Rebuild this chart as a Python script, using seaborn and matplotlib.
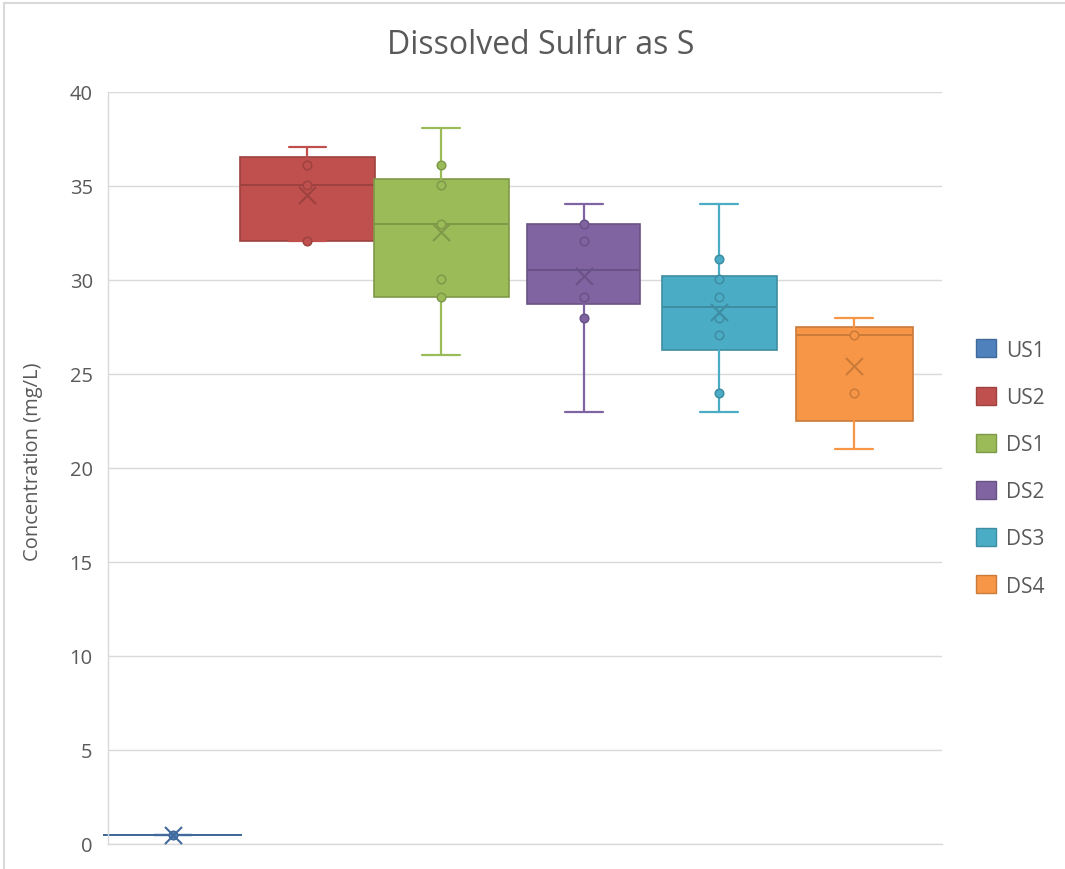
import matplotlib
matplotlib.use("Agg")
import matplotlib.pyplot as plt
import matplotlib.colors as mcolors
from matplotlib.patches import Patch
from matplotlib.lines import Line2D
import seaborn as sns

# Sampling sites and their box-and-whisker summaries (mg/L)
sites = ["US1", "US2", "DS1", "DS2", "DS3", "DS4"]
q1 = [0.5, 32.05, 29.1, 28.7, 26.3, 22.5]
median = [0.5, 35.05, 33.0, 30.55, 28.55, 27.05]
q3 = [0.5, 36.55, 35.35, 33.0, 30.2, 27.5]
whisker_low = [0.5, 32.05, 26.0, 23.0, 23.0, 21.0]
whisker_high = [0.5, 37.05, 38.1, 34.05, 34.05, 28.0]
means = [0.5, 34.5, 32.55, 30.2, 28.3, 25.45]

# Individual samples shown as inner points
us1_points = [0.5]
us2_points = [36.1, 35.05, 32.05]
ds1_points = [36.1, 35.05, 33.0, 30.05, 29.1]
ds2_points = [33.0, 32.05, 29.1, 28.0]
ds3_points = [31.1, 30.05, 29.1, 28.0, 27.05, 24.0]
ds4_points = [27.05, 24.0]
site_points = [us1_points, us2_points, ds1_points, ds2_points, ds3_points, ds4_points]

colors = ["#4F81BD", "#C0504D", "#9BBB59", "#8064A2", "#4BACC6", "#F79646"]

# Layout of the boxes along the (category-less) horizontal axis
box_pos = [64.5, 199.5, 333.5, 476, 611.5, 746.5]
box_width = [139, 135, 135, 113, 115, 117]
cap_width = 38

def darker(c, f=0.82):
    r, g, b = mcolors.to_rgb(c)
    return (r * f, g * f, b * f)

sns.set_theme(style="white")
plt.rcParams["font.family"] = ["Open Sans", "DejaVu Sans"]

text_color = "#595959"
grid_color = "#d9d9d9"

fig = plt.figure(figsize=(10.65, 8.7), dpi=100)
ax = fig.add_axes([108 / 1065, 1 - 845 / 870, (942 - 108) / 1065, (845 - 93) / 870])

for i, site in enumerate(sites):
    col = colors[i]
    dk = darker(col)
    stat = dict(label=site, q1=q1[i], med=median[i], q3=q3[i],
                whislo=whisker_low[i], whishi=whisker_high[i],
                mean=means[i], fliers=[])
    arts = ax.bxp([stat], positions=[box_pos[i]], widths=[box_width[i]],
                  capwidths=[cap_width], patch_artist=True, manage_ticks=False,
                  showfliers=False,
                  boxprops=dict(facecolor=col, edgecolor=dk, linewidth=1.2),
                  medianprops=dict(color=dk, linewidth=1.4),
                  whiskerprops=dict(color=col, linewidth=1.6),
                  capprops=dict(color=col, linewidth=1.6))
    for group in arts.values():
        for a in group:
            a.set_clip_on(False)
            a.set_zorder(2)

    pts = site_points[i]
    sns.scatterplot(x=[box_pos[i]] * len(pts), y=pts, ax=ax, color=col,
                    edgecolor=dk, linewidth=1.1, s=38, zorder=4, legend=False,
                    clip_on=False)
    sns.scatterplot(x=[box_pos[i]], y=[means[i]], ax=ax, marker="x",
                    color=dk, s=150, linewidth=1.5, zorder=5, legend=False,
                    clip_on=False)

ax.set_xlim(0, 834)
ax.set_ylim(0, 40)
ax.set_yticks(range(0, 41, 5))
ax.set_xticks([])
ax.yaxis.grid(True, color=grid_color, linewidth=1)
ax.set_axisbelow(True)
for side in ["top", "right"]:
    ax.spines[side].set_visible(False)
for side in ["left", "bottom"]:
    ax.spines[side].set_color(grid_color)
    ax.spines[side].set_linewidth(1)
ax.tick_params(axis="y", length=0, labelsize=14.5, labelcolor=text_color, pad=11)
ax.set_xlabel("")
ax.set_ylabel("")

fig.text(33 / 1065, 1 - 462 / 870, "Concentration (mg/L)", rotation=90,
         ha="center", va="center", fontsize=14.5, color=text_color)
fig.text(541 / 1065, 1 - 45 / 870, "Dissolved Sulfur as S",
         ha="center", va="center", fontsize=23, color=text_color)

handles = [Patch(facecolor=c, edgecolor=darker(c), linewidth=1) for c in colors]
fig.legend(handles, sites, loc="center left",
           bbox_to_anchor=(976 / 1065, 1 - 469 / 870), frameon=False,
           fontsize=15, handlelength=0.95, handleheight=0.95,
           labelspacing=1.25, handletextpad=0.5, borderpad=0,
           borderaxespad=0, labelcolor=text_color)

# Light chart-area border
fig.add_artist(Line2D([4 / 1065, 4 / 1065], [0, 1 - 4 / 870],
                      transform=fig.transFigure, color=grid_color, lw=1.5))
fig.add_artist(Line2D([4 / 1065, 1], [1 - 4 / 870, 1 - 4 / 870],
                      transform=fig.transFigure, color=grid_color, lw=1.5))

fig.savefig("out.png", dpi=100)
